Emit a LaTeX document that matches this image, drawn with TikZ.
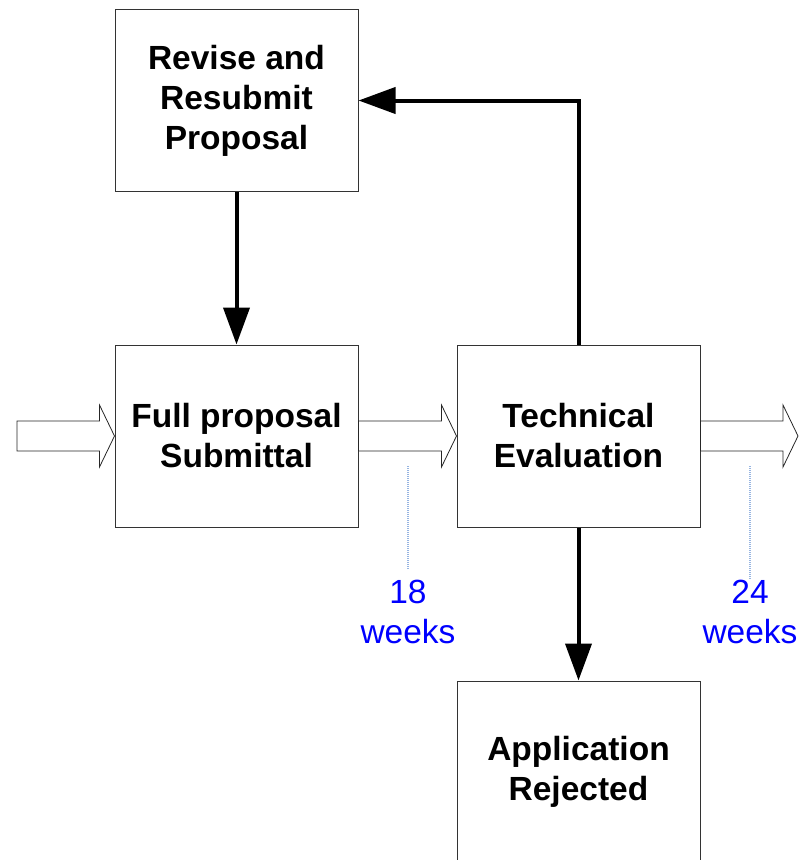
\documentclass[tikz,border=0pt]{standalone}
\usepackage{fontspec}
\setmainfont{Liberation Sans}
\usetikzlibrary{arrows.meta,calc}

\definecolor{tickblue}{RGB}{150,180,225}

\tikzset{
  stepbox/.style={draw=black!80, line width=1pt, minimum width=243pt, minimum height=182pt,
    align=center, inner sep=0pt, font=\bfseries\fontsize{33.5}{40}\selectfont},
  flow/.style={line width=4pt, -{Triangle[length=37pt,width=26pt]}},
  hollow/.style={draw=black!85, line width=0.8pt, fill=white},
  weeks/.style={align=center, text=blue, font=\fontsize{33.5}{40}\selectfont},
  tick/.style={draw=tickblue, line width=1.2pt, dash pattern=on 1pt off 1pt},
}

% Block arrow between two points
\newcommand{\BlockArrow}[2]{%
  \draw[hollow] ($(#1)+(0,-\shafth)$) -- ($(#2)+(-\headl,-\shafth)$) -- ($(#2)+(-\headl,-\headh)$)
    -- (#2) -- ($(#2)+(-\headl,\headh)$) -- ($(#2)+(-\headl,\shafth)$) -- ($(#1)+(0,\shafth)$) -- cycle;%
}

\begin{document}
\begin{tikzpicture}[x=1pt,y=-1pt]
  % Parameters definitions
  \def\shafth{15} % Half height of the block arrow shaft
  \def\headh{31}  % Half height of the block arrow head
  \def\headl{15}  % Length of the block arrow head

  \useasboundingbox (0,0) rectangle (800,860);
  \clip (0,0) rectangle (800,860);

  % Boxes
  \node[stepbox] (revise) at (236.5,100.5) {Revise and\\Resubmit\\Proposal};
  \node[stepbox] (full)   at (236.5,436)   {Full proposal\\Submittal};
  \node[stepbox] (tech)   at (578.5,436)   {Technical\\Evaluation};
  \node[stepbox] (reject) at (578.5,772)   {Application\\Rejected};

  % Flow arrows
  \draw[flow] (revise.south) -- (full.north);
  \draw[flow] (tech.north) |- (revise.east);
  \draw[flow] (tech.south) -- (reject.north);

  % Block arrows
  \coordinate (in)  at (17,436);
  \coordinate (out) at (798,436);
  \BlockArrow{in}{full.west}
  \BlockArrow{full.east}{tech.west}
  \BlockArrow{tech.east}{out}

  % Durations
  \node[weeks] (wk18) at (408,612) {18\\weeks};
  \node[weeks] (wk24) at (750,612) {24\\weeks};
  \coordinate (t18) at (408,466);
  \coordinate (t24) at (750,466);
  \draw[tick] (t18) -- ($(wk18.north)+(0,-8)$);
  \draw[tick] (t24) -- ($(wk24.north)+(0,3)$);
\end{tikzpicture}
\end{document}
